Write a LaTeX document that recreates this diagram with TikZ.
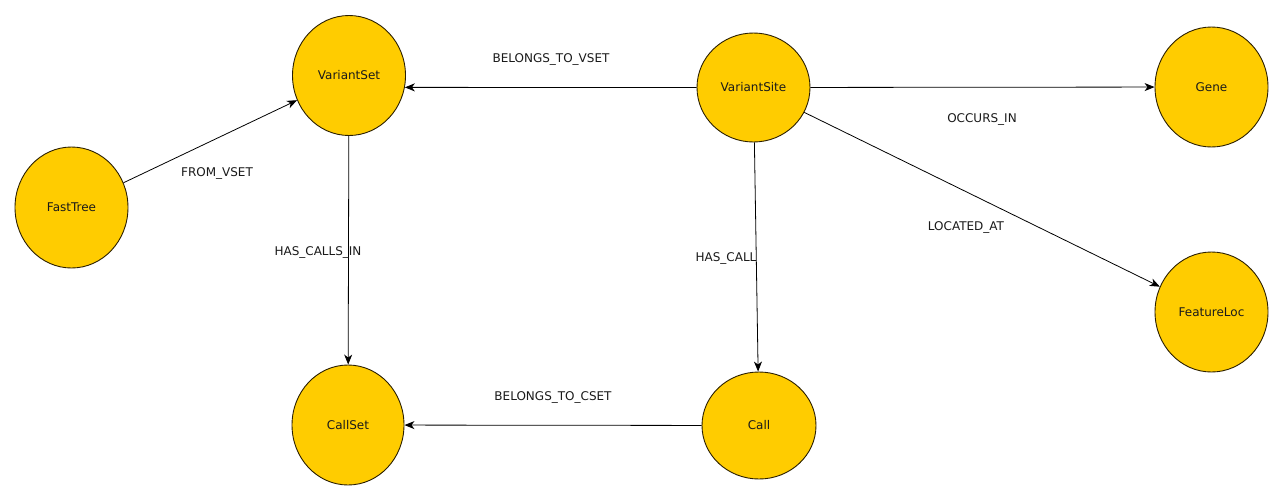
\documentclass[tikz,border=0pt]{standalone}
\usepackage{fontspec}
\setmainfont{DejaVu Sans}
\usetikzlibrary{shapes.geometric,arrows.meta}
\definecolor{nodefill}{HTML}{FFCC00}
\definecolor{nodeline}{HTML}{2B1F00}
\definecolor{txt}{HTML}{1A1A1A}
\begin{document}
\begin{tikzpicture}[x=1pt,y=-1pt,
  ent/.style={ellipse,draw=nodeline,fill=nodefill,line width=0.9pt,inner sep=0pt,
    minimum width=113pt,minimum height=120pt,font=\fontsize{12}{14}\selectfont,text=txt},
  rel/.style={draw=black,line width=0.8pt,-{Stealth[length=10pt,width=8pt,inset=3pt]}},
  lab/.style={font=\fontsize{12}{14}\selectfont,text=txt,inner sep=0pt}]
\useasboundingbox[fill=white] (0,0) rectangle (1283,501);
\node[ent] (vset) at (349,75.5) {VariantSet};
\node[ent,minimum height=109pt] (vsite) at (753.5,87.5) {VariantSite};
\node[ent,minimum height=121pt] (ftree) at (71.5,207.5) {FastTree};
\node[ent] (gene) at (1211.5,87) {Gene};
\node[ent] (floc) at (1211.5,312) {FeatureLoc};
\node[ent,minimum width=112pt] (cset) at (348,425) {CallSet};
\node[ent,minimum width=114pt,minimum height=107pt] (call) at (759,425.5) {Call};
\draw[rel] (ftree) -- (vset);
\draw[rel] (vsite.west) -- (vset.-12);
\draw[rel] (vset) -- (cset);
\draw[rel] (vsite) -- (gene);
\draw[rel] (vsite) -- (floc);
\draw[rel] (vsite) -- (call);
\draw[rel] (call) -- (cset);
\node[lab] (l1) at (217,173) {FROM\_VSET};
\node[lab] (l2) at (551,59) {BELONGS\_TO\_VSET};
\node[lab] (l3) at (318,252) {HAS\_CALLS\_IN};
\node[lab] (l4) at (982,119) {OCCURS\_IN};
\node[lab] (l5) at (966,227) {LOCATED\_AT};
\node[lab] (l6) at (726,258) {HAS\_CALL};
\node[lab] (l7) at (553,397) {BELONGS\_TO\_CSET};
\end{tikzpicture}
\end{document}
